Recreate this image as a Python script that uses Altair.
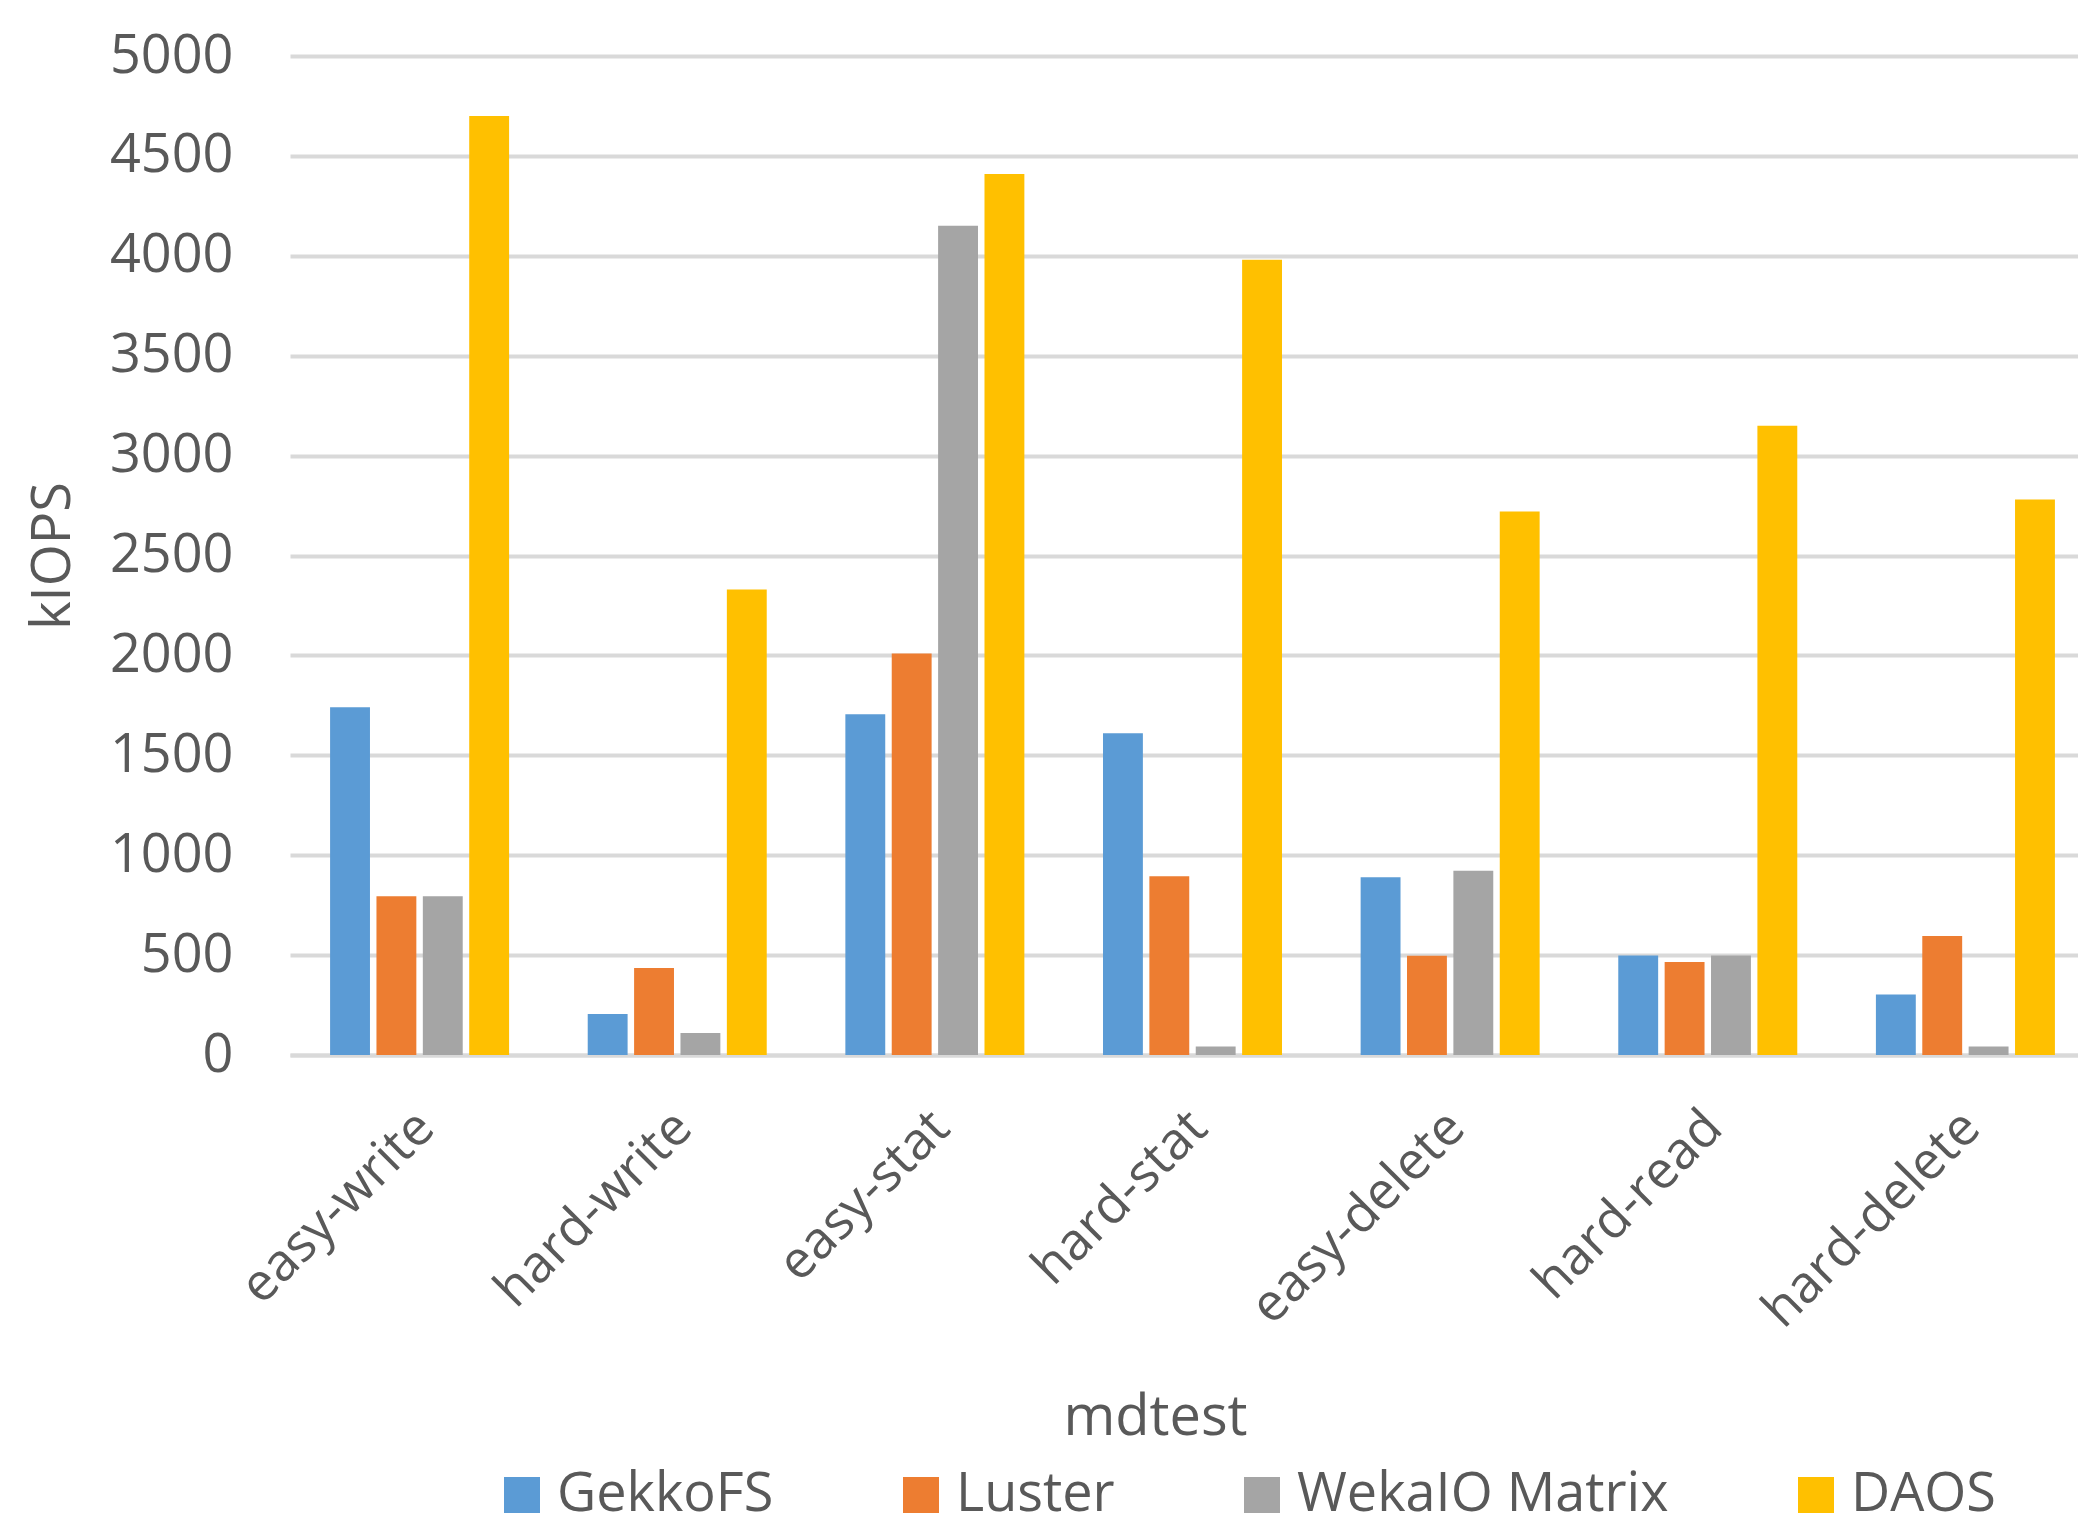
import altair as alt
import pandas as pd

categories = ["easy-write", "hard-write", "easy-stat", "hard-stat", "easy-delete", "hard-read", "hard-delete"]
systems = ["GekkoFS", "Luster", "WekaIO Matrix", "DAOS"]
gekkofs = [1740, 205, 1705, 1610, 890, 498, 303]
luster = [795, 435, 2010, 895, 497, 465, 595]
wekaio = [795, 110, 4150, 42, 922, 498, 42]
daos = [4700, 2330, 4410, 3980, 2720, 3150, 2780]
colors = ["#5B9BD5", "#ED7D31", "#A5A5A5", "#FFC000"]
y_ticks = [0, 500, 1000, 1500, 2000, 2500, 3000, 3500, 4000, 4500, 5000]

series = [gekkofs, luster, wekaio, daos]
rows = []
for s, vals in zip(systems, series):
    for c, v in zip(categories, vals):
        rows.append({"test": c, "system": s, "kiops": v})
df = pd.DataFrame(rows)

FONT = "Open Sans"
TXT = "#595959"
GRID = "#d9d9d9"

chart = alt.Chart(df).mark_bar().encode(
    x=alt.X("test:N", sort=categories, title="mdtest",
            scale=alt.Scale(paddingInner=0.28, paddingOuter=0.11, align=0.65),
            axis=alt.Axis(labelAngle=315, labelAlign="right", labelBaseline="middle",
                          labelPadding=64, labelOffset=6, labelLimit=0, ticks=False,
                          domainColor=GRID, domainWidth=4,
                          labelFont=FONT, labelFontSize=52, labelColor=TXT,
                          titleFont=FONT, titleFontSize=56, titleColor=TXT, titleFontWeight="normal",
                          titleX=865, titleY=362, titleBaseline="middle", titleAnchor="start", titleAlign="center")),
    xOffset=alt.XOffset("system:N", sort=systems,
                        scale=alt.Scale(paddingInner=0.14, paddingOuter=0.07)),
    y=alt.Y("kiops:Q", title="kIOPS",
            scale=alt.Scale(domain=[0, 5000], nice=False),
            axis=alt.Axis(values=y_ticks, format="d", ticks=False, domain=False, gridColor=GRID, gridWidth=4,
                          labelFont=FONT, labelFontSize=54, labelColor=TXT, labelPadding=57,
                          titleFont=FONT, titleFontSize=54, titleColor=TXT, titleFontWeight="normal",
                          titleX=-237, titleBaseline="middle")),
    color=alt.Color("system:N", sort=systems,
                    scale=alt.Scale(domain=systems, range=colors),
                    legend=alt.Legend(title=None, orient="none", legendX=205, legendY=1412,
                                      direction="horizontal", columns=4, columnPadding=120,
                                      gridAlign="each", symbolType="square", symbolSize=1296,
                                      symbolStrokeWidth=0, labelOffset=8, labelLimit=0,
                                      labelFont=FONT, labelFontSize=54, labelColor=TXT)),
).properties(
    width=1788,
    height=999,
    autosize=alt.AutoSizeParams(type="none"),
    padding={"left": 290, "top": 56, "right": 0, "bottom": 474},
    background="white",
).configure_view(stroke=None)

chart.save("out.html", embed_options={"renderer": "svg", "actions": False})
